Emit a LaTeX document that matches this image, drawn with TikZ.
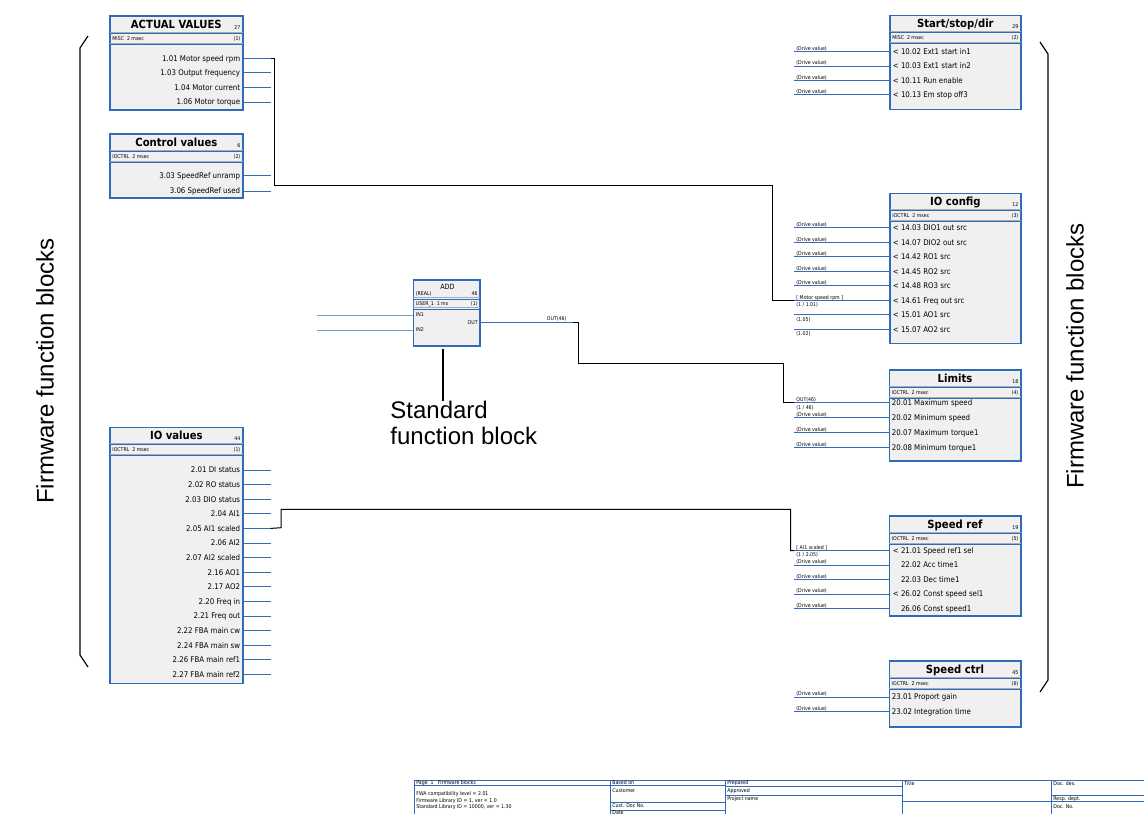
\documentclass[tikz,border=0pt]{standalone}
\usepackage{fontspec}
\usepackage{tikz}
\usetikzlibrary{positioning, calc}
\newfontfamily\blockfont{DejaVu Sans Condensed}
\newfontfamily\labelfont{Liberation Sans}
\definecolor{fbBlue}{RGB}{46,108,186}
\definecolor{fbFill}{RGB}{240,240,240}
\definecolor{stubBlue}{RGB}{50,110,188}
\definecolor{stubLight}{RGB}{120,158,210}
\definecolor{sepGray}{RGB}{165,172,185}

% firmware block: name, left, top, right, bottom, title, number, task, index
\newcommand\fwblock[9]{%
  \node[fbox, anchor=north west, minimum width={(#4-#2)*0.5pt},
        minimum height={(#5-#3)*0.5pt}] (#1) at (#2,#3) {};
  \draw[hsepl] ($(#1.north west)+(0,16)$) -- ($(#1.north east)+(0,16)$);
  \draw[hsep] ($(#1.north west)+(0,17.3)$) -- ($(#1.north east)+(0,17.3)$);
  \draw[hsepl] ($(#1.north west)+(0,27)$) -- ($(#1.north east)+(0,27)$);
  \draw[hsep] ($(#1.north west)+(0,28.3)$) -- ($(#1.north east)+(0,28.3)$);
  \node[ttl] (#1-ttl) at ($(#1.north)+(0,8)$) {#6};
  \node[lbl, anchor=base east] (#1-no) at ($(#1.north east)+(-2,13.5)$) {#7};
  \node[lbl, anchor=base west] (#1-task) at ($(#1.north west)+(2,24.5)$) {#8};
  \node[lbl, anchor=base east] (#1-idx) at ($(#1.north east)+(-2,24.5)$) {#9};
}

\begin{document}
\begin{tikzpicture}[x=0.5pt, y=-0.5pt,
  fbox/.style={draw=fbBlue, fill=fbFill, line width=0.8pt, inner sep=0pt, outer sep=0pt},
  hsep/.style={draw=fbBlue, line width=0.4pt},
  hsepl/.style={draw=sepGray, line width=0.4pt},
  ttl/.style={font=\blockfont\bfseries\fontsize{5.6}{6.5}\selectfont, inner sep=0pt,
              text height=4pt, text depth=0pt},
  rowtxt/.style={font=\blockfont\fontsize{3.9}{4.5}\selectfont, inner sep=0pt,
                 text height=2.8pt, text depth=0pt},
  lbl/.style={font=\blockfont\fontsize{2.6}{3}\selectfont, inner sep=0pt},
  stub/.style={draw=stubBlue, line width=0.5pt},
  stubl/.style={draw=stubLight, line width=0.5pt},
  link/.style={draw=black, line width=0.5pt},
  brace/.style={draw=black, line width=0.6pt},
  bigtxt/.style={font=\labelfont\fontsize{12}{13}\selectfont, inner sep=0pt},
  tbline/.style={draw=fbBlue, line width=0.45pt},
]
\useasboundingbox (0,0) rectangle (1144,814);
\fill[white] (0,0) rectangle (1144,814);

% left side: output blocks
\fwblock{actval}{110}{16}{242.7}{110}{ACTUAL VALUES}{27}{MISC\ \ 2 msec}{(1)}
\foreach \rowtext [count=\i, evaluate=\i as \y using 58.3+14.6*(\i-1)] in
  {1.01 Motor speed rpm, 1.03 Output frequency, 1.04 Motor current, 1.06 Motor torque} {
  \node[rowtxt, anchor=east] (av\i) at (240.5,\y) {\rowtext};
  \coordinate (av\i-out) at (270.7,\y);
  \draw[stub] (actval.east |- av\i-out) -- (av\i-out);
}

\fwblock{ctrlval}{110}{134}{242.7}{198}{Control values}{6}{IOCTRL\ \ 2 msec}{(2)}
\foreach \rowtext [count=\i, evaluate=\i as \y using 175.3+15.7*(\i-1)] in
  {3.03 SpeedRef unramp, 3.06 SpeedRef used} {
  \node[rowtxt, anchor=east] (cv\i) at (240.5,\y) {\rowtext};
  \coordinate (cv\i-out) at (270.7,\y);
  \draw[stub] (ctrlval.east |- cv\i-out) -- (cv\i-out);
}

\fwblock{iovals}{110}{427.3}{242.7}{683.3}{IO values}{44}{IOCTRL\ \ 2 msec}{(1)}
\foreach \rowtext [count=\i, evaluate=\i as \y using 470+14.6*(\i-1)] in
  {2.01 DI status, 2.02 RO status, 2.03 DIO status, 2.04 AI1, 2.05 AI1 scaled,
   2.06 AI2, 2.07 AI2 scaled, 2.16 AO1, 2.17 AO2, 2.20 Freq in, 2.21 Freq out,
   2.22 FBA main cw, 2.24 FBA main sw, 2.26 FBA main ref1, 2.27 FBA main ref2} {
  \node[rowtxt, anchor=east] (iov\i) at (240.5,\y) {\rowtext};
  \coordinate (iov\i-out) at (270.7,\y);
  \draw[stub] (iovals.east |- iov\i-out) -- (iov\i-out);
}

% right side: input blocks
\fwblock{startstop}{890}{15.3}{1020.7}{109.3}{Start/stop/dir}{29}{MISC\ \ 2 msec}{(2)}
\foreach \rowtext [count=\i, evaluate=\i as \y using 51.7+14.4*(\i-1)] in
  {< 10.02 Ext1 start in1, < 10.03 Ext1 start in2, < 10.11 Run enable, < 10.13 Em stop off3} {
  \node[rowtxt, anchor=west] (ss\i) at (892.5,\y) {\rowtext};
  \coordinate (ss\i-in) at (794,\y);
  \draw[stub] (ss\i-in) -- (startstop.west |- ss\i-in);
  \node[lbl, anchor=base west] (ss\i-src) at ($(ss\i-in)+(2,-1.2)$) {(Drive value)};
}

\fwblock{iocfg}{890}{193.3}{1020.7}{343.5}{IO config}{12}{IOCTRL\ \ 2 msec}{(3)}
\foreach \rowtext [count=\i, evaluate=\i as \y using 227.7+14.5*(\i-1)] in
  {< 14.03 DIO1 out src, < 14.07 DIO2 out src, < 14.42 RO1 src, < 14.45 RO2 src,
   < 14.48 RO3 src, < 14.61 Freq out src, < 15.01 AO1 src, < 15.07 AO2 src} {
  \node[rowtxt, anchor=west] (io\i) at (892.5,\y) {\rowtext};
  \coordinate (io\i-in) at (794,\y);
  \draw[stub] (io\i-in) -- (iocfg.west |- io\i-in);
}
\foreach \i in {1,...,5} {
  \node[lbl, anchor=base west] (io\i-src) at ($(io\i-in)+(2,-1.2)$) {(Drive value)};
}
\node[lbl, anchor=base west] (io6-src) at ($(io6-in)+(2,-1.2)$) {[ Motor speed rpm ]};
\node[lbl, anchor=north west] (io6-ref) at ($(io6-in)+(2,2)$) {(1 / 1.01)};
\node[lbl, anchor=north west] (io7-ref) at ($(io7-in)+(2,2)$) {(1.05)};
\node[lbl, anchor=north west] (io8-ref) at ($(io8-in)+(2,2)$) {(1.02)};

\fwblock{limits}{889.3}{370}{1020.7}{460.7}{Limits}{18}{IOCTRL\ \ 2 msec}{(4)}
\foreach \rowtext [count=\i, evaluate=\i as \y using 402.8+14.9*(\i-1)] in
  {20.01 Maximum speed, 20.02 Minimum speed, 20.07 Maximum torque1, 20.08 Minimum torque1} {
  \node[rowtxt, anchor=west] (lim\i) at (891.5,\y) {\rowtext};
  \coordinate (lim\i-in) at (794,\y);
  \draw[stub] (lim\i-in) -- (limits.west |- lim\i-in);
}
\foreach \i in {2,3,4} {
  \node[lbl, anchor=base west] (lim\i-src) at ($(lim\i-in)+(2,-1.2)$) {(Drive value)};
}
\node[lbl, anchor=base west] (lim1-src) at ($(lim1-in)+(2,-1.2)$) {OUT(46)};
\node[lbl, anchor=north west] (lim1-ref) at ($(lim1-in)+(2,2)$) {(1 / 46)};

\fwblock{spdref}{889.3}{516}{1020.7}{616}{Speed ref}{19}{IOCTRL\ \ 2 msec}{(5)}
\foreach \rowtext [count=\i, evaluate=\i as \y using 550.5+14.5*(\i-1)] in
  {< 21.01 Speed ref1 sel, \hphantom{<\ }22.02 Acc time1, \hphantom{<\ }22.03 Dec time1,
   < 26.02 Const speed sel1, \hphantom{<\ }26.06 Const speed1} {
  \node[rowtxt, anchor=west] (sr\i) at (892.5,\y) {\rowtext};
  \coordinate (sr\i-in) at (794,\y);
  \draw[stub] (sr\i-in) -- (spdref.west |- sr\i-in);
}
\foreach \i in {2,...,5} {
  \node[lbl, anchor=base west] (sr\i-src) at ($(sr\i-in)+(2,-1.2)$) {(Drive value)};
}
\node[lbl, anchor=base west] (sr1-src) at ($(sr1-in)+(2,-1.2)$) {[ AI1 scaled ]};
\node[lbl, anchor=north west] (sr1-ref) at ($(sr1-in)+(2,2)$) {(1 / 2.05)};

\fwblock{spdctrl}{889.3}{661}{1020.7}{727}{Speed ctrl}{45}{IOCTRL\ \ 2 msec}{(6)}
\foreach \rowtext [count=\i, evaluate=\i as \y using 697+14.6*(\i-1)] in
  {23.01 Proport gain, 23.02 Integration time} {
  \node[rowtxt, anchor=west] (sc\i) at (891.5,\y) {\rowtext};
  \coordinate (sc\i-in) at (794,\y);
  \draw[stub] (sc\i-in) -- (spdctrl.west |- sc\i-in);
  \node[lbl, anchor=base west] (sc\i-src) at ($(sc\i-in)+(2,-1.2)$) {(Drive value)};
}

% standard block
\node[fbox, anchor=north west, minimum width=33.35pt, minimum height=33pt] (add) at (413.3,280) {};
\draw[hsepl] (add.west |- 0,297.7) -- (add.east |- 0,297.7);
\draw[hsep] (add.west |- 0,299) -- (add.east |- 0,299);
\draw[hsepl] (add.west |- 0,307.7) -- (add.east |- 0,307.7);
\draw[hsep] (add.west |- 0,309) -- (add.east |- 0,309);
\node[font=\blockfont\fontsize{3.6}{4}\selectfont, inner sep=0pt] (add-ttl) at (447.5,286.5) {ADD};
\node[lbl, anchor=base west] (add-type) at (415.5,295.5) {(REAL)};
\node[lbl, anchor=base east] (add-no) at (478,295.5) {46};
\node[lbl, anchor=base west] (add-task) at (415.5,305.8) {USER\_1\ \ 1 ms};
\node[lbl, anchor=base east] (add-idx) at (478,305.8) {(1)};
\node[lbl, anchor=west] (add-in1) at (415.5,315) {IN1};
\node[lbl, anchor=west] (add-in2) at (415.5,330) {IN2};
\node[lbl, anchor=east] (add-out) at (478,322.3) {OUT};
\coordinate (in1) at (317.3,315);
\coordinate (in2) at (317.3,330);
\draw[stubl] (in1) -- (add.west |- add-in1);
\draw[stubl] (in2) -- (add.west |- add-in2);
\coordinate (addq) at (573,322.3);
\draw[stub] (add.east |- add-out) -- (addq);
\node[lbl, anchor=base] (addq-lbl) at (556.7,320.8) {OUT(46)};

\coordinate (addptr) at (442.7,349.3);
\node[bigtxt, anchor=north west, align=left] (stdlbl) at (390,400.5) {Standard\\function block};
\draw[line width=1.2pt] (addptr) -- (addptr |- stdlbl.north);

% connections
\draw[link] (av1-out) -- (274,58.3) |- (772,185.7) |- (io6-in);
\draw[link] (addq) -- (578.3,322.3) |- (783.3,363.3) |- (lim1-in);
\draw[link] (iov5-out) -- (281,527.7) |- (790.7,509.3) |- (sr1-in);

% braces and side labels
\draw[brace] (88,36) -- (80,48) -- (80,655) -- (88,667);
\draw[brace] (1040,42) -- (1048,54) -- (1048,680) -- (1040,692);
\node[bigtxt, rotate=90] (fwleft) at (45,371) {Firmware function blocks};
\node[bigtxt, rotate=90] (fwright) at (1075,356) {Firmware function blocks};

% title block
\draw[tbline] (414,814) -- (414,780) -- (1144,780);
\foreach \x in {610,725,902.3,1051} {
  \draw[tbline] (\x,780) -- (\x,814);
}
\draw[tbline] (414,785.7) -- (725,785.7);
\draw[tbline] (610,802.3) -- (725,802.3);
\draw[tbline] (610,810) -- (725,810);
\draw[tbline] (725,786.5) -- (902.3,786.5);
\draw[tbline] (725,795) -- (902.3,795);
\draw[tbline] (902.3,801.7) -- (1144,801.7);
\draw[tbline] (1051,795) -- (1144,795);
\node[lbl, anchor=west] (tb-page) at (416,782.8) {Page\ \ 1\ \ \ Firmware blocks};
\node[lbl, anchor=west] (tb-fwa) at (416,794.3) {FWA compatibility level = 2.01};
\node[lbl, anchor=west] (tb-fwlib) at (416,801) {Firmware Library ID = 1, ver = 1.0};
\node[lbl, anchor=west] (tb-stdlib) at (416,807.5) {Standard Library ID = 10000, ver = 1.30};
\node[lbl, anchor=west] (tb-based) at (612,782.8) {Based on};
\node[lbl, anchor=west] (tb-cust) at (612,790.7) {Customer};
\node[lbl, anchor=west] (tb-custdoc) at (612,806) {Cust. Doc No.};
\node[lbl, anchor=west] (tb-date) at (612,812.6) {Date};
\node[lbl, anchor=west] (tb-prep) at (727,782.8) {Prepared};
\node[lbl, anchor=west] (tb-appr) at (727,790.7) {Approved};
\node[lbl, anchor=west] (tb-proj) at (727,799.3) {Project name};
\node[lbl, anchor=west] (tb-title) at (904,783.3) {Title};
\node[lbl, anchor=west] (tb-docdes) at (1053,783.3) {Doc. des.};
\node[lbl, anchor=west] (tb-resp) at (1053,799) {Resp. dept.};
\node[lbl, anchor=west] (tb-docno) at (1053,806.7) {Doc. No.};
\end{tikzpicture}
\end{document}
